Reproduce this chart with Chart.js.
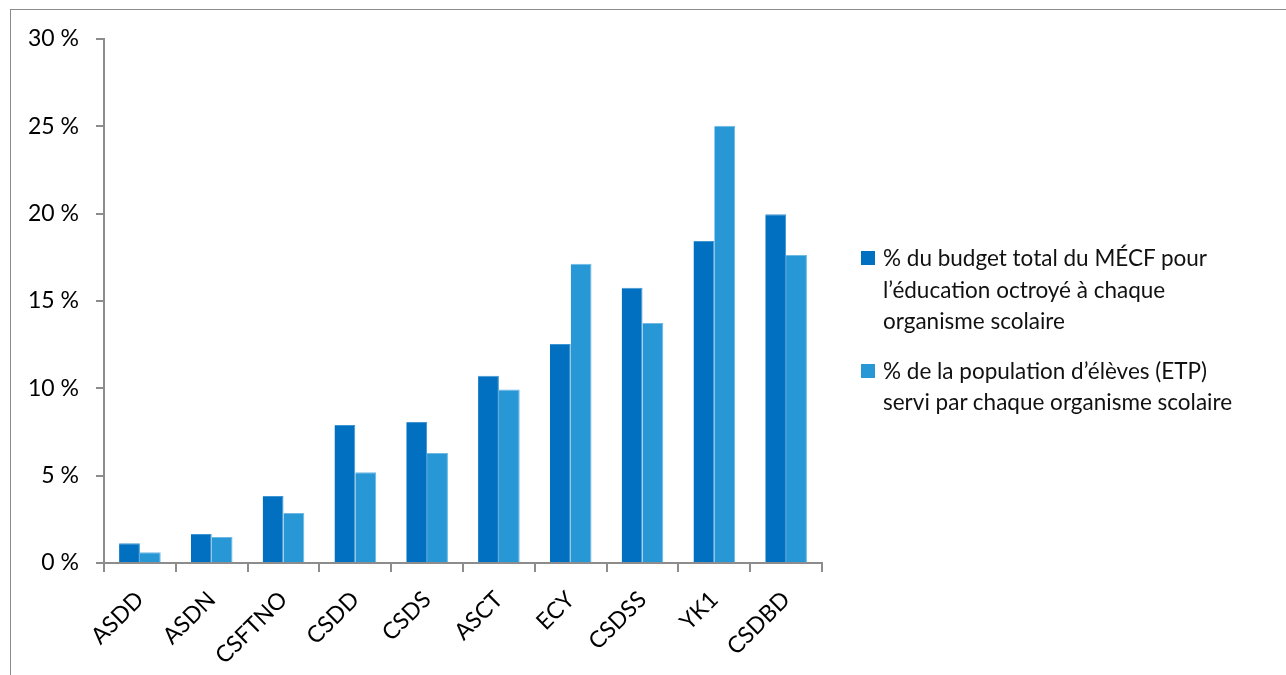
<!DOCTYPE html>
<html lang="fr">
<head>
<meta charset="utf-8">
<script src="https://cdn.jsdelivr.net/npm/chart.js@4"></script>
<style>
  html, body { margin: 0; padding: 0; background: #fff; overflow: hidden; }
  body { width: 1286px; height: 675px; position: relative; font-family: Lato, "Noto Sans", sans-serif; }
  #frame { position: absolute; left: 10px; top: 9px; width: 1400px; height: 800px;
           border-left: 1px solid #8a8a8a; border-top: 1px solid #8a8a8a; }
  #chart { position: absolute; left: 0; top: 0; }
  #legend { position: absolute; left: 861px; top: 242px; color: #111; font-size: 22.5px; line-height: 31.5px; }
  .item { position: relative; padding-left: 22px; margin-bottom: 18px; white-space: nowrap; }
  .box { position: absolute; left: 0; top: 9px; width: 14px; height: 14px; }
</style>
</head>
<body>
<div id="frame"></div>
<canvas id="chart" width="1286" height="675"></canvas>
<div id="legend"></div>

<script>
// données
const organismes = ['ASDD', 'ASDN', 'CSFTNO', 'CSDD', 'CSDS', 'ASCT', 'ECY', 'CSDSS', 'YK1', 'CSDBD'];
const budgetPct = [1.13, 1.66, 3.83, 7.9, 8.07, 10.72, 12.54, 15.76, 18.43, 19.96];
const elevesPct = [0.61, 1.49, 2.86, 5.19, 6.3, 9.94, 17.13, 13.74, 25.03, 17.63];
const yTicks = [0, 5, 10, 15, 20, 25, 30];
const seriesNames = [
  ['% du budget total du MÉCF pour', 'l’éducation octroyé à chaque', 'organisme scolaire'],
  ['% de la population d’élèves (ETP)', 'servi par chaque organisme scolaire']
];
const colors = ['#0170C1', '#2797D5'];
const edgeColors = ['#3f95d2', '#6cb9e4'];

const axisGray = '#8c8c8c';

// LÉGENDE HTML (texte sur plusieurs lignes)
const legendEl = document.getElementById('legend');
seriesNames.forEach((lines, i) => {
  const item = document.createElement('div');
  item.className = 'item';
  item.innerHTML = `<span class="box" style="background:${colors[i]}"></span>` + lines.join('<br>');
  legendEl.appendChild(item);
});

// GRAPHIQUE
new Chart(document.getElementById('chart'), {
  type: 'bar',
  data: {
    labels: organismes,
    datasets: [
      { label: seriesNames[0].join(' '), data: budgetPct, backgroundColor: colors[0],
        borderColor: edgeColors[0], borderWidth: { top: 1, right: 1 } },
      { label: seriesNames[1].join(' '), data: elevesPct, backgroundColor: colors[1],
        borderColor: edgeColors[1], borderWidth: { top: 1, right: 1 } }
    ]
  },
  options: {
    responsive: false,
    animation: false,
    categoryPercentage: 0.58,
    barPercentage: 1,
    layout: { padding: { left: 0, right: 464, top: 39, bottom: 0 } },
    plugins: {
      legend: { display: false },
      tooltip: { enabled: false }
    },
    scales: {
      x: {
        afterFit: s => { s.height = 112; },
        grid: { offset: true, drawOnChartArea: false, color: axisGray, lineWidth: 2, tickLength: 9 },
        border: { display: true, color: axisGray, width: 2 },
        ticks: {
          minRotation: 45, maxRotation: 45, padding: 14,
          color: '#000', font: { family: 'Lato', size: 23 }
        }
      },
      y: {
        min: 0,
        max: 30,
        afterFit: s => { s.width = 104; },
        afterBuildTicks: s => { s.ticks = yTicks.map(v => ({ value: v })); },
        grid: { drawOnChartArea: false, color: axisGray, lineWidth: 2, tickLength: 8 },
        border: { display: true, color: axisGray, width: 2 },
        ticks: {
          padding: 17,
          color: '#000',
          font: { family: 'Lato', size: 23 },
          callback: v => v + ' %'
        }
      }
    }
  }
});
</script>
</body>
</html>
